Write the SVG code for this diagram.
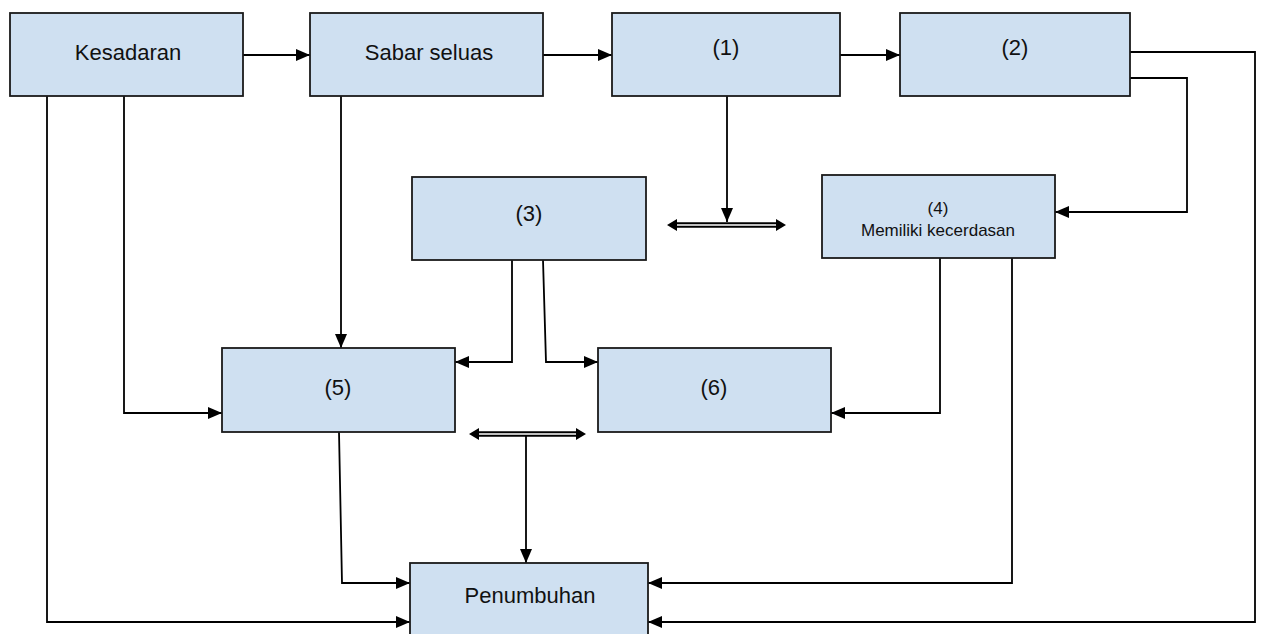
<svg xmlns="http://www.w3.org/2000/svg" width="1262" height="634" viewBox="0 0 1262 634">
<style>
.box{fill:#cfe0f1;stroke:#1a1a1a;stroke-width:1.8}
.t{font-family:"Liberation Sans",Arial,sans-serif;font-size:22px;fill:#111;text-anchor:middle}
.s{font-size:17px}
.c{fill:none;stroke:#000;stroke-width:1.8}
</style>
<defs>
<marker id="ah" viewBox="0 0 14 12" refX="14" refY="6" markerWidth="14" markerHeight="12" markerUnits="userSpaceOnUse" orient="auto">
<path d="M0,0 L14,6 L0,12 Z" fill="#000"/>
</marker>
</defs>
<rect width="1262" height="634" fill="#fff"/>
<g id="connectors">
<path class="c" d="M243,55 H310" marker-end="url(#ah)"/>
<path class="c" d="M543,55 H612" marker-end="url(#ah)"/>
<path class="c" d="M840,55 H900" marker-end="url(#ah)"/>
<path class="c" d="M1130,52 H1255 V622 H648" marker-end="url(#ah)"/>
<path class="c" d="M1130,78 H1187 V212 H1055" marker-end="url(#ah)"/>
<path class="c" d="M727,96 V222" marker-end="url(#ah)"/>
<path class="c" d="M47,96 V622 H410" marker-end="url(#ah)"/>
<path class="c" d="M124,96 V413 H222" marker-end="url(#ah)"/>
<path class="c" d="M341,96 V348" marker-end="url(#ah)"/>
<path class="c" d="M512,260 V362 H455" marker-end="url(#ah)"/>
<path class="c" d="M543,260 L546,362 H598" marker-end="url(#ah)"/>
<path class="c" d="M940,258 V413 H831" marker-end="url(#ah)"/>
<path class="c" d="M1012,253 V583 H648" marker-end="url(#ah)"/>
<path class="c" d="M339,432 L342,583 H410" marker-end="url(#ah)"/>
<path class="c" d="M526,434 V563" marker-end="url(#ah)"/>
<g id="dbl1">
<line x1="674" y1="225" x2="779" y2="225" stroke="#000" stroke-width="5.5"/>
<line x1="672" y1="225" x2="781" y2="225" stroke="#fff" stroke-width="1.5"/>
<path d="M667,225 L677,219 L677,231 Z M786,225 L776,219 L776,231 Z" fill="#000"/>
</g>
<g id="dbl2">
<line x1="476" y1="434" x2="579" y2="434" stroke="#000" stroke-width="5.5"/>
<line x1="474" y1="434" x2="581" y2="434" stroke="#fff" stroke-width="1.5"/>
<path d="M469,434 L479,428 L479,440 Z M586,434 L576,428 L576,440 Z" fill="#000"/>
</g>
</g>
<g id="kesadaran"><rect class="box" x="10" y="13" width="233" height="83"/><text class="t" x="128" y="60">Kesadaran</text></g>
<g id="sabar"><rect class="box" x="310" y="13" width="233" height="83"/><text class="t" x="429" y="60">Sabar seluas</text></g>
<g id="n1"><rect class="box" x="612" y="13" width="228" height="83"/><text class="t" x="726" y="55">(1)</text></g>
<g id="n2"><rect class="box" x="900" y="13" width="230" height="83"/><text class="t" x="1015" y="55">(2)</text></g>
<g id="n3"><rect class="box" x="412" y="177" width="234" height="83"/><text class="t" x="529" y="221">(3)</text></g>
<g id="n4"><rect class="box" x="822" y="175" width="233" height="83"/><text class="t s" x="938" y="214">(4)</text><text class="t" style="font-size:17px" x="938" y="236">Memiliki kecerdasan</text></g>
<g id="n5"><rect class="box" x="222" y="348" width="233" height="84"/><text class="t" x="338" y="395">(5)</text></g>
<g id="n6"><rect class="box" x="598" y="348" width="233" height="84"/><text class="t" x="714" y="395">(6)</text></g>
<g id="penumbuhan"><rect class="box" x="410" y="563" width="238" height="80"/><text class="t" x="530" y="603">Penumbuhan</text></g>
</svg>
